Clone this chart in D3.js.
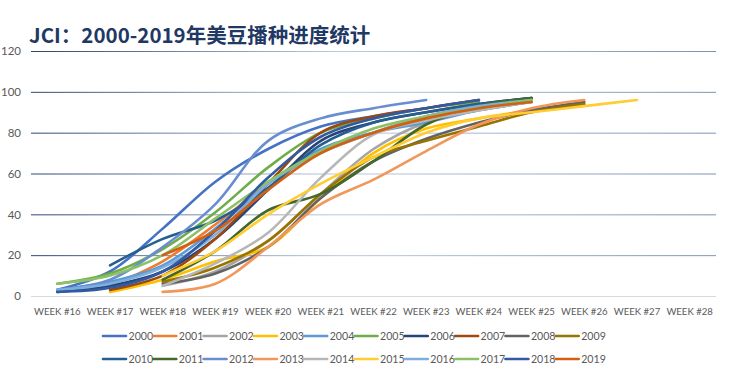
<!DOCTYPE html>
<html>
<head>
<meta charset="utf-8">
<script src="https://cdn.jsdelivr.net/npm/d3@7"></script>
<style>
html,body{margin:0;padding:0;background:#fff;}
svg{display:block;}
</style>
</head>
<body>
<svg id="chart" width="730" height="374"></svg>
<script>
const weeks = ["WEEK #16","WEEK #17","WEEK #18","WEEK #19","WEEK #20","WEEK #21","WEEK #22","WEEK #23","WEEK #24","WEEK #25","WEEK #26","WEEK #27","WEEK #28"];
const yTicks = [0,20,40,60,80,100,120];
const years = ["2000","2001","2002","2003","2004","2005","2006","2007","2008","2009","2010","2011","2012","2013","2014","2015","2016","2017","2018","2019"];
const colors = ["#4472C4","#ED7D31","#A5A5A5","#FFC000","#5B9BD5","#70AD47","#264478","#9E480E","#636363","#997300","#255E91","#43682B","#698ED0","#F1975A","#B7B7B7","#FFCD33","#7CAFDD","#8CC168","#335AA1","#D26012"];

// values per week (#16..#28), null = no data
const s2000 = [3,12,33,56,72,83,88,92,96,null,null,null,null];
const s2001 = [null,5,17,35,55,70,80,88,93,96,null,null,null];
const s2002 = [null,null,5,12,27,50,72,85,91,95,null,null,null];
const s2003 = [null,2,8,17,24,48,70,82,87,91,94,null,null];
const s2004 = [3,7,15,33,55,72,80,85,91,95,null,null,null];
const s2005 = [6,11,23,41,63,80,87,92,95,null,null,null,null];
const s2006 = [2,5,12,28,52,76,85,90,94,97,null,null,null];
const s2007 = [null,3,10,28,55,80,88,92,96,null,null,null,null];
const s2008 = [null,null,6,11,24,48,66,77,85,91,95,null,null];
const s2009 = [null,null,7,14,27,50,68,76,83,90,94,null,null];
const s2010 = [null,15,28,37,53,74,85,90,94,97,null,null,null];
const s2011 = [null,null,8,22,42,50,66,84,93,97,null,null,null];
const s2012 = [3,8,24,45,76,87,92,96,null,null,null,null,null];
const s2013 = [null,null,2,6,24,45,57,71,84,92,96,null,null];
const s2014 = [null,null,5,16,31,58,79,86,91,95,null,null,null];
const s2015 = [null,null,10,22,40,55,68,80,87,90,93,96,null];
const s2016 = [3,6,14,30,55,70,80,88,93,96,null,null,null];
const s2017 = [6,10,20,38,56,71,82,88,92,96,null,null,null];
const s2018 = [2,4,12,32,58,78,87,92,96,null,null,null,null];
const s2019 = [null,null,20,32,52,70,80,87,92,95,null,null,null];
const seriesValues = [s2000,s2001,s2002,s2003,s2004,s2005,s2006,s2007,s2008,s2009,s2010,s2011,s2012,s2013,s2014,s2015,s2016,s2017,s2018,s2019];

const svg = d3.select("#chart");
const mLeft = 31, mRight = 716, mTop = 51, mBottom = 296;

const x = d3.scaleBand().domain(weeks).range([mLeft,mRight]);
const y = d3.scaleLinear().domain([0,120]).range([mBottom,mTop]);

// gradient for gridlines
const defs = svg.append("defs");
const grad = defs.append("linearGradient").attr("id","gridGrad")
  .attr("gradientUnits","userSpaceOnUse").attr("x1",mLeft).attr("x2",mRight).attr("y1",0).attr("y2",0);
grad.append("stop").attr("offset","0%").attr("stop-color","#2A4677");
grad.append("stop").attr("offset","45%").attr("stop-color","#BFCBDF");
grad.append("stop").attr("offset","100%").attr("stop-color","#7F91B2");

// title
svg.append("text").attr("x",29).attr("y",43)
  .attr("font-family","'Noto Sans CJK SC','Noto Sans',sans-serif")
  .attr("font-weight","bold").attr("font-size",20.5).attr("fill","#1F3864")
  .text("JCI：2000-2019年美豆播种进度统计");

// gridlines
svg.append("g").selectAll("line").data(yTicks.filter(d=>d>0)).join("line")
  .attr("x1",mLeft).attr("x2",mRight).attr("y1",d=>y(d)+0.5).attr("y2",d=>y(d)+0.5)
  .attr("stroke","url(#gridGrad)").attr("stroke-width",1);
svg.append("line").attr("x1",mLeft).attr("x2",mRight).attr("y1",y(0)+0.5).attr("y2",y(0)+0.5)
  .attr("stroke","#D9D9D9").attr("stroke-width",1);

// y axis labels
const yAxis = d3.axisLeft(y).tickValues(yTicks).tickSize(0).tickPadding(0);
const gy = svg.append("g").attr("transform",`translate(${mLeft-10},0)`).call(yAxis);
gy.select(".domain").remove();
gy.selectAll("text").attr("font-family","Lato,'Open Sans',sans-serif").attr("font-size",11.5).attr("fill","#595959");

// x axis labels
const xAxis = d3.axisBottom(x).tickSize(0).tickPadding(0);
const gx = svg.append("g").attr("transform",`translate(0,${mBottom+12})`).call(xAxis);
gx.select(".domain").remove();
gx.selectAll("text").attr("font-family","Lato,'Open Sans',sans-serif").attr("font-size",9.6).attr("fill","#595959");

// lines
const line = d3.line()
  .x(d=>x(d.w)+x.bandwidth()/2)
  .y(d=>y(d.v))
  .curve(d3.curveCatmullRom.alpha(0.5));

const data = years.map((yr,i)=>({
  year: yr, color: colors[i],
  pts: seriesValues[i].map((v,j)=>({w:weeks[j],v})).filter(p=>p.v!==null)
}));

svg.append("g").selectAll("path").data(data).join("path")
  .attr("d",d=>line(d.pts))
  .attr("fill","none").attr("stroke",d=>d.color)
  .attr("stroke-width",2.6).attr("stroke-linecap","round").attr("stroke-linejoin","round");

// legend
const leg = svg.append("g");
data.forEach((d,i)=>{
  const row = Math.floor(i/10), col = i%10;
  const lx = 102 + col*50.3, ly = 336 + row*23;
  const g = leg.append("g").attr("transform",`translate(${lx},${ly})`);
  g.append("line").attr("x1",1).attr("x2",24).attr("y1",0).attr("y2",0)
    .attr("stroke",d.color).attr("stroke-width",2.6).attr("stroke-linecap","round");
  g.append("text").attr("x",26.5).attr("y",4).attr("font-family","Lato,'Open Sans',sans-serif")
    .attr("font-size",10.6).attr("fill","#595959").text(d.year);
});
</script>
</body>
</html>
